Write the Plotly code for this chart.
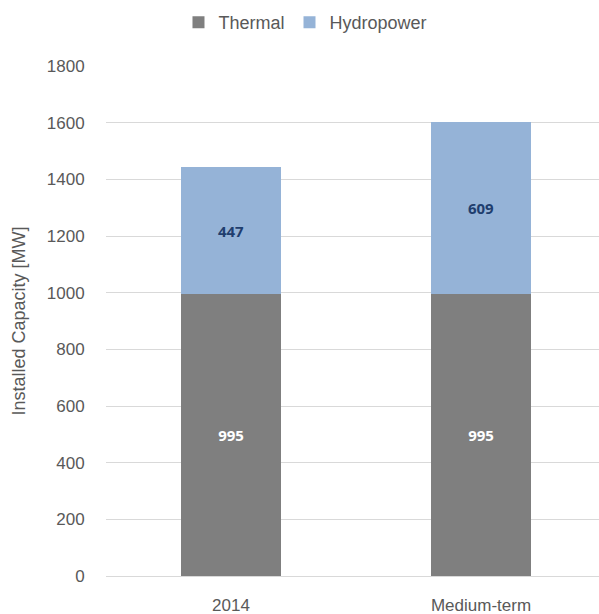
import plotly.graph_objects as go

categories = ["2014", "Medium-term"]
thermal = [995, 995]
hydropower = [447, 609]
y_ticks = [0, 200, 400, 600, 800, 1000, 1200, 1400, 1600, 1800]

font_family = "Liberation Sans, Arial"
label_font = "Noto Sans, Open Sans, Arial"

fig = go.Figure()
fig.add_trace(go.Bar(
    x=[0, 1], y=thermal, name="Thermal",
    marker=dict(color="#7f7f7f", line=dict(width=0)),
    width=0.4,
    text=[str(v) for v in thermal], textposition="inside",
    insidetextanchor="middle",
    textfont=dict(family=label_font, size=15, color="white", weight="bold"),
))
fig.add_trace(go.Bar(
    x=[0, 1], y=hydropower, name="Hydropower",
    marker=dict(color="#95b3d7", line=dict(width=0)),
    width=0.4,
    text=[str(v) for v in hydropower], textposition="inside",
    insidetextanchor="middle",
    textfont=dict(family=label_font, size=15, color="#1f3e6e", weight="bold"),
))

fig.update_layout(
    barmode="stack",
    width=599, height=614,
    margin=dict(l=106, r=0, t=66, b=38, autoexpand=False),
    plot_bgcolor="white", paper_bgcolor="white",
    font=dict(family=font_family, size=17, color="#595959"),
    showlegend=True,
    legend=dict(orientation="h", x=0.51, xanchor="center", xref="container",
                y=1.085, yanchor="middle",
                font=dict(family=font_family, size=18, color="#595959"),
                itemwidth=30, traceorder="normal"),
    uniformtext=dict(mode="show", minsize=8),
)
fig.update_xaxes(
    range=[-0.5, 1.472],
    tickmode="array", tickvals=[0, 1], ticktext=categories,
    showgrid=False, showline=False, zeroline=False,
    ticks="outside", ticklen=14, tickcolor="rgba(0,0,0,0)",
    automargin=False,
    tickfont=dict(family=font_family, size=17, color="#595959"),
)
fig.update_yaxes(
    range=[0, 1800],
    tickmode="array", tickvals=y_ticks,
    showgrid=True, gridcolor="#d9d9d9", gridwidth=1,
    zeroline=True, zerolinecolor="#d9d9d9", zerolinewidth=1,
    showline=False, ticks="outside", ticklen=17, tickcolor="rgba(0,0,0,0)",
    automargin=False,
    tickfont=dict(family=font_family, size=17, color="#595959"),
    title=dict(text="Installed Capacity [MW]", standoff=16,
               font=dict(family=font_family, size=18, color="#595959")),
)

fig.write_html("out.html")
